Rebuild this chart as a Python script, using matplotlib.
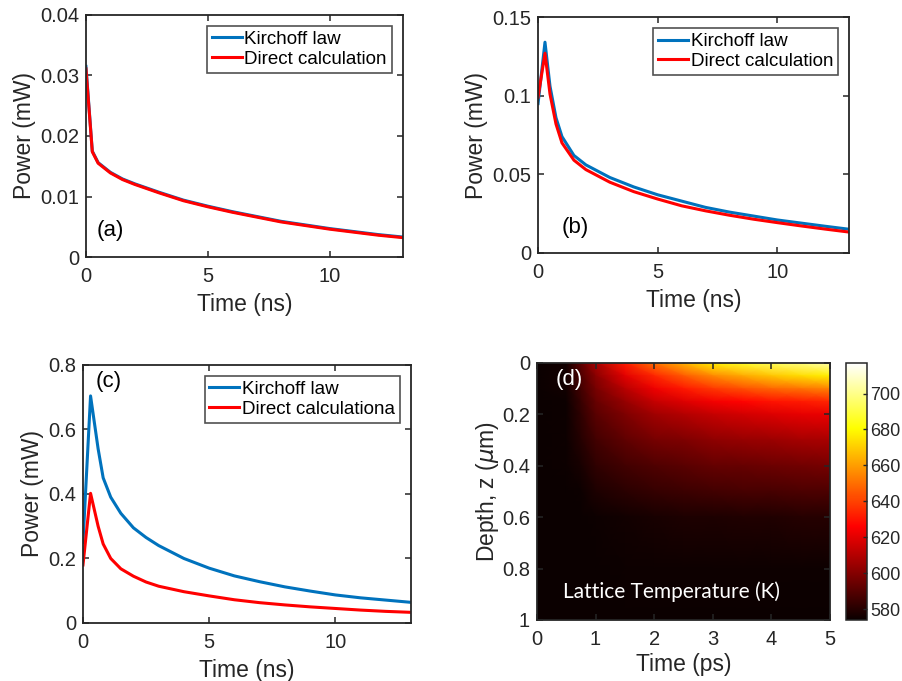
import numpy as np
import matplotlib
matplotlib.use("Agg")
import matplotlib.pyplot as plt
from matplotlib.ticker import FormatStrFormatter

plt.rcParams['font.family'] = ['Liberation Sans', 'DejaVu Sans']
plt.rcParams['mathtext.fontset'] = 'dejavusans'

# ---- panel (a) ----
t_a = [0, 0.26, 0.5, 1, 1.5, 2, 3, 4, 5, 6, 7, 8, 9, 10, 11, 12, 13]
kirch_a = [0.0315, 0.0175, 0.0156, 0.0140, 0.0129, 0.0121, 0.0107, 0.0094, 0.0084,
           0.0075, 0.0067, 0.0059, 0.0053, 0.0047, 0.0042, 0.0037, 0.0033]
direct_a = [0.0311, 0.0174, 0.0155, 0.0139, 0.0128, 0.0120, 0.0106, 0.0093, 0.0083,
            0.0074, 0.0066, 0.0058, 0.0052, 0.0046, 0.0041, 0.0036, 0.0032]

# ---- panel (b) ----
t_b = [0, 0.29, 0.5, 0.75, 1, 1.5, 2, 2.5, 3, 4, 5, 6, 7, 8, 9, 10, 11, 12, 13]
kirch_b = [0.095, 0.134, 0.106, 0.086, 0.074, 0.062, 0.056, 0.052, 0.048, 0.042, 0.037,
           0.033, 0.029, 0.026, 0.0235, 0.021, 0.019, 0.017, 0.0151]
direct_b = [0.099, 0.127, 0.101, 0.082, 0.070, 0.059, 0.053, 0.049, 0.045, 0.039, 0.0343,
            0.030, 0.0268, 0.024, 0.0215, 0.0193, 0.0172, 0.0152, 0.0133]

# ---- panel (c) ----
t_c = [0, 0.3, 0.6, 0.8, 1.1, 1.5, 2, 2.5, 3, 4, 5, 6, 7, 8, 9, 10, 11, 12, 13]
kirch_c = [0.25, 0.704, 0.54, 0.45, 0.39, 0.34, 0.295, 0.265, 0.24, 0.20, 0.17, 0.146,
           0.128, 0.112, 0.099, 0.087, 0.078, 0.071, 0.064]
direct_c = [0.18, 0.402, 0.30, 0.245, 0.20, 0.168, 0.145, 0.127, 0.114, 0.097, 0.084,
            0.072, 0.063, 0.056, 0.050, 0.045, 0.040, 0.036, 0.033]

# ---- panel (d): lattice temperature (K), rows = depth, cols = time ----
t_ps = [0, 0.5, 0.75, 1, 1.5, 2, 2.5, 3, 3.5, 4, 4.5, 5]
depth_um = [0, 0.05, 0.1, 0.15, 0.2, 0.3, 0.4, 0.5, 0.6, 0.8, 1.0]
temp_cols = [
    [574, 574, 574, 574, 574, 574, 574, 574, 574, 574, 574],   # t=0
    [576, 576, 576, 575, 575, 575, 575, 574, 574, 574, 574],   # t=0.5
    [592, 588, 586, 584, 582, 580, 577, 575, 574, 574, 574],   # t=0.75
    [608, 601, 597, 594, 591, 586, 582, 578, 575, 574, 574],   # t=1
    [632, 620, 611, 604, 599, 592, 586, 581, 576, 575, 574],   # t=1.5
    [650, 634, 623, 614, 606, 597, 589, 583, 577, 575, 574],   # t=2
    [664, 645, 631, 619, 610, 599, 591, 585, 578, 575, 574],   # t=2.5
    [677, 655, 638, 624, 614, 602, 593, 586, 578, 575, 574],   # t=3
    [686, 662, 643, 627, 617, 604, 594, 587, 579, 575, 574],   # t=3.5
    [693, 668, 648, 630, 619, 605, 595, 587, 579, 575, 574],   # t=4
    [699, 673, 651, 632, 621, 607, 596, 588, 580, 575, 574],   # t=4.5
    [705, 677, 654, 634, 622, 608, 597, 588, 580, 575, 574],   # t=5
]
temp_ticks = [580, 600, 620, 640, 660, 680, 700]

BLUE = '#0072BD'
RED = '#FF0000'
AX_COL = '#262626'
TICK_FS = 14.5
LABEL_FS = 16.5
LEG_FS = 13.5


def style_axes(ax):
    for s in ax.spines.values():
        s.set_color(AX_COL)
        s.set_linewidth(1.3)
    ax.tick_params(direction='in', top=True, right=True, length=4, width=1.1,
                   colors=AX_COL, labelsize=TICK_FS, labelcolor=AX_COL)
    ax.tick_params(axis='x', pad=7)
    ax.tick_params(axis='y', pad=5)


def power_panel(rect, t, kirch, direct, ymax, yticks, tag, tag_xy, direct_label):
    ax = fig.add_axes(rect)
    ax.plot(t, kirch, color=BLUE, lw=2.2, label='Kirchoff law')
    ax.plot(t, direct, color=RED, lw=2.2, label=direct_label)
    ax.set_xlim(0, 13)
    ax.set_ylim(0, ymax)
    ax.set_xticks([0, 5, 10])
    ax.set_yticks(yticks)
    ax.yaxis.set_major_formatter(FormatStrFormatter('%g'))
    ax.set_xlabel('Time (ns)', fontsize=LABEL_FS, color=AX_COL, labelpad=5)
    ax.set_ylabel('Power (mW)', fontsize=LABEL_FS, color=AX_COL, labelpad=3)
    style_axes(ax)
    leg = ax.legend(loc='upper right', fontsize=LEG_FS, frameon=True, fancybox=False,
                    borderaxespad=0.6, borderpad=0.25, labelspacing=0.15,
                    handlelength=1.6, handletextpad=0.15)
    leg.get_frame().set_edgecolor(AX_COL)
    leg.get_frame().set_linewidth(1.2)
    ax.text(tag_xy[0], tag_xy[1], tag, transform=ax.transAxes, fontsize=16,
            color='black', ha='left', va='center')
    return ax


fig = plt.figure(figsize=(9.02, 6.81), dpi=100)

power_panel([0.0953, 0.6226, 0.3514, 0.3554], t_a, kirch_a, direct_a, 0.04,
            [0, 0.01, 0.02, 0.03, 0.04], '(a)', (0.035, 0.11), 'Direct calculation')
power_panel([0.5965, 0.6285, 0.3448, 0.3465], t_b, kirch_b, direct_b, 0.15,
            [0, 0.05, 0.1, 0.15], '(b)', (0.075, 0.11), 'Direct calculation')
power_panel([0.0920, 0.0852, 0.3636, 0.3789], t_c, kirch_c, direct_c, 0.8,
            [0, 0.2, 0.4, 0.6, 0.8], '(c)', (0.04, 0.935), 'Direct calculationa')

# ---- heat map ----
axd = fig.add_axes([0.5953, 0.0896, 0.3248, 0.3774])
temp = np.array(temp_cols).T
mesh = axd.pcolormesh(t_ps, depth_um, temp, shading='gouraud', cmap='hot',
                      vmin=574, vmax=717, rasterized=True)
axd.set_xlim(0, 5)
axd.set_ylim(1, 0)
axd.set_xticks([0, 1, 2, 3, 4, 5])
axd.set_yticks([0, 0.2, 0.4, 0.6, 0.8, 1])
axd.yaxis.set_major_formatter(FormatStrFormatter('%g'))
axd.set_xlabel('Time (ps)', fontsize=LABEL_FS, color=AX_COL, labelpad=3)
axd.set_ylabel(r'Depth, z ($\mu$m)', fontsize=LABEL_FS, color=AX_COL, labelpad=1)
style_axes(axd)
axd.text(0.065, 0.935, '(d)', transform=axd.transAxes, fontsize=16,
         color='white', ha='left', va='center')
axd.text(0.46, 0.11, 'Lattice Temperature (K)', transform=axd.transAxes,
         fontsize=15, color='white', ha='center', va='center', family=['Lato', 'DejaVu Sans'])

cax = fig.add_axes([0.9379, 0.0896, 0.0233, 0.3774])
cb = fig.colorbar(mesh, cax=cax, ticks=temp_ticks)
cb.outline.set_edgecolor(AX_COL)
cb.outline.set_linewidth(1.1)
cax.tick_params(direction='in', length=3, width=1.0, colors=AX_COL,
                labelsize=13, labelcolor=AX_COL, pad=2.5)

fig.savefig('out.png', dpi=100)
